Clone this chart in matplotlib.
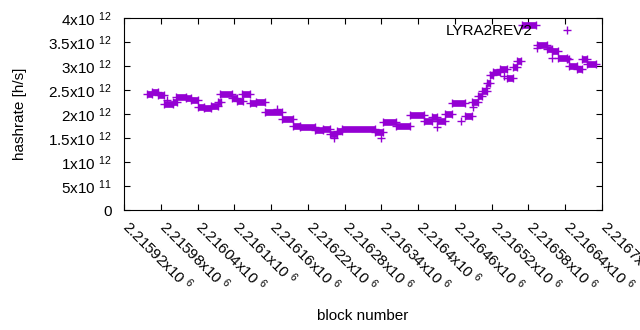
import numpy as np
import matplotlib
matplotlib.use("Agg")
import matplotlib.pyplot as plt
from matplotlib.transforms import ScaledTranslation

plt.rcParams['font.family'] = ['Liberation Sans', 'DejaVu Sans']
plt.rcParams['mathtext.fontset'] = 'custom'
plt.rcParams['mathtext.rm'] = 'Liberation Sans'
plt.rcParams['mathtext.default'] = 'regular'

# Steps of constant hashrate: first block, last block, hashrate [h/s]
seg_start = [2215958, 2215966, 2215975, 2215985, 2216000, 2216005, 2216021, 2216030,
             2216040, 2216050, 2216062, 2216074, 2216077, 2216096, 2216104, 2216112,
             2216125, 2216136, 2216150, 2216178, 2216196, 2216207, 2216232, 2216245,
             2216256, 2216268, 2216276, 2216330, 2216343, 2216364, 2216387, 2216410,
             2216423, 2216431, 2216444, 2216455, 2216477, 2216488, 2216498, 2216504,
             2216512, 2216517, 2216522, 2216534, 2216545, 2216555, 2216562, 2216570,
             2216594, 2216610, 2216618, 2216628, 2216643, 2216646, 2216659, 2216668,
             2216676]
seg_end = [2215966, 2215975, 2215985, 2216000, 2216007, 2216021, 2216030, 2216040,
           2216050, 2216062, 2216074, 2216078, 2216096, 2216104, 2216114, 2216125,
           2216136, 2216150, 2216178, 2216196, 2216207, 2216232, 2216245, 2216256,
           2216267, 2216276, 2216330, 2216343, 2216364, 2216387, 2216410, 2216423,
           2216431, 2216444, 2216455, 2216477, 2216488, 2216498, 2216504, 2216512,
           2216517, 2216522, 2216534, 2216545, 2216555, 2216562, 2216568, 2216592,
           2216610, 2216618, 2216628, 2216643, 2216646, 2216659, 2216668, 2216676,
           2216690]
seg_rate = [2.42e12, 2.46e12, 2.40e12, 2.21e12, 2.25e12, 2.35e12, 2.33e12, 2.30e12,
            2.15e12, 2.12e12, 2.17e12, 2.25e12, 2.42e12, 2.34e12, 2.27e12, 2.42e12,
            2.22e12, 2.26e12, 2.04e12, 1.90e12, 1.75e12, 1.72e12, 1.67e12, 1.69e12,
            1.58e12, 1.65e12, 1.68e12, 1.62e12, 1.84e12, 1.74e12, 1.97e12, 1.85e12,
            1.93e12, 1.86e12, 1.99e12, 2.23e12, 1.95e12, 2.25e12, 2.37e12, 2.48e12,
            2.65e12, 2.81e12, 2.88e12, 2.94e12, 2.74e12, 2.98e12, 3.10e12, 3.86e12,
            3.44e12, 3.35e12, 3.31e12, 3.17e12, 3.14e12, 2.99e12, 2.93e12, 3.15e12,
            3.05e12]

# Single stray blocks
odd_block = [2215990, 2216170, 2216262, 2216340, 2216430, 2216470, 2216490, 2216510,
             2216540, 2216594, 2216618]
odd_rate = [2.30e12, 2.10e12, 1.50e12, 1.50e12, 1.73e12, 1.85e12, 2.15e12, 2.55e12,
            2.80e12, 3.38e12, 3.17e12]

xtick_pos = [2215920, 2215980, 2216040, 2216100, 2216160, 2216220, 2216280,
             2216340, 2216400, 2216460, 2216520, 2216580, 2216640, 2216700]
xtick_lab = ['2.21592', '2.21598', '2.21604', '2.2161', '2.21616', '2.21622', '2.21628',
             '2.21634', '2.2164', '2.21646', '2.21652', '2.21658', '2.21664', '2.2167']
ytick_pos = [0, 5e11, 1e12, 1.5e12, 2e12, 2.5e12, 3e12, 3.5e12, 4e12]
ytick_lab = ['0', '5x10 $^{11}$', '1x10 $^{12}$', '1.5x10 $^{12}$', '2x10 $^{12}$',
             '2.5x10 $^{12}$', '3x10 $^{12}$', '3.5x10 $^{12}$', '4x10 $^{12}$']

color = '#9400d3'

fig = plt.figure(figsize=(6.4, 3.3), dpi=100)
ax = fig.add_axes([124 / 640, 1 - 210 / 330, 478 / 640, 192 / 330])

# dense runs of '+' markers show up as solid bars
ax.hlines(seg_rate, seg_start, seg_end, color=color, lw=4.8)
ax.plot(seg_start + seg_end + odd_block, seg_rate + seg_rate + odd_rate, '+',
        color=color, ms=6, mew=1.0, label='LYRA2REV2')

ax.set_xlim(2215920, 2216700)
ax.set_ylim(0, 4e12)
ax.set_xticks(xtick_pos)
ax.set_xticklabels([s + 'x10 $^{6}$' for s in xtick_lab], rotation=-45,
                   ha='left', va='top', rotation_mode='anchor')
ax.set_yticks(ytick_pos)
ax.set_yticklabels(ytick_lab)
ax.tick_params(direction='in', length=4, width=0.8, top=True, right=True,
               labelsize=11, colors='black')
ax.tick_params(axis='y', pad=9)
ax.tick_params(axis='x', pad=5)
for lab in ax.get_xticklabels():
    lab.set_transform(lab.get_transform() + ScaledTranslation(0.08, 0, fig.dpi_scale_trans))
for s in ax.spines.values():
    s.set_linewidth(0.8)

ax.set_xlabel('block number', fontsize=11, labelpad=10)
ax.set_ylabel('hashrate [h/s]', fontsize=11, labelpad=15)

ax.legend(loc='center right', bbox_to_anchor=(0.958, 0.932), frameon=False,
          markerfirst=False, fontsize=11, borderpad=0, borderaxespad=0,
          handlelength=2, handletextpad=1.2, numpoints=1)

plt.savefig('out.png', dpi=100)
